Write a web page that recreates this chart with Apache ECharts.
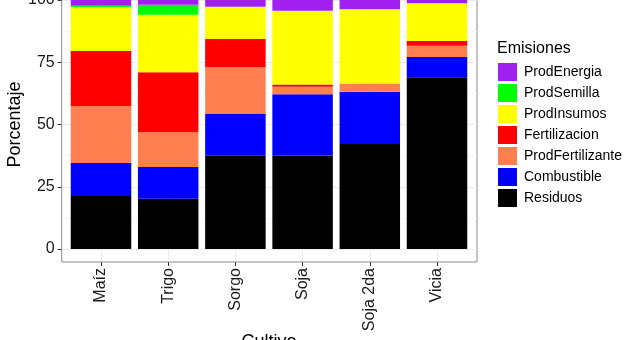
<!DOCTYPE html>
<html>
<head>
<meta charset="utf-8">
<script src="https://cdn.jsdelivr.net/npm/echarts@6/dist/echarts.min.js"></script>
<style>html,body{margin:0;padding:0;background:#fff}#c{width:640px;height:340px}</style>
</head>
<body>
<div id="c"></div>
<script>
const categories = ['Maíz', 'Trigo', 'Sorgo', 'Soja', 'Soja 2da', 'Vicia'];
const Residuos         = [21.3, 20.2, 37.5, 37.6, 42.2, 69.0];
const Combustible      = [13.2, 12.7, 16.7, 24.5, 21.0,  8.1];
const ProdFertilizante = [22.9, 14.0, 18.8,  3.1,  3.3,  4.5];
const Fertilizacion    = [22.1, 24.1, 11.3,  0.9,  0.0,  1.9];
const ProdInsumos      = [17.7, 23.1, 13.0, 29.6, 29.8, 15.2];
const ProdSemilla      = [ 0.5,  4.0,  0.0,  0.0,  0.0,  0.0];
const ProdEnergia      = [ 2.3,  1.9,  2.7,  4.3,  3.7,  1.3];
const yTicks = [0, 25, 50, 75, 100];
const legendOrder = ['ProdEnergia','ProdSemilla','ProdInsumos','Fertilizacion','ProdFertilizante','Combustible','Residuos'];

const FONT = 'Liberation Sans, Arial, sans-serif';
const stackSeries = [
  ['Residuos', Residuos, '#000000'],
  ['Combustible', Combustible, '#0000ff'],
  ['ProdFertilizante', ProdFertilizante, '#ff7f50'],
  ['Fertilizacion', Fertilizacion, '#ff0000'],
  ['ProdInsumos', ProdInsumos, '#ffff00'],
  ['ProdSemilla', ProdSemilla, '#00ff00'],
  ['ProdEnergia', ProdEnergia, '#a020f0']
];

const chart = echarts.init(document.getElementById('c'), null, {renderer: 'canvas'});
chart.setOption({
  animation: false,
  textStyle: {fontFamily: FONT},
  title: {
    text: 'Emisiones', left: 497, top: 41, padding: 0,
    textStyle: {fontSize: 16, fontWeight: 'normal', color: '#000', fontFamily: FONT}
  },
  legend: {
    data: legendOrder, orient: 'vertical', left: 498, top: 63, padding: 0,
    itemWidth: 19, itemHeight: 18, itemGap: 3, icon: 'rect',
    textStyle: {fontSize: 14, color: '#000', fontFamily: FONT, padding: [0, 0, 0, 2]}
  },
  grid: [
    {left: 61.7, right: 163, top: 0, bottom: 91, outerBoundsMode: 'none', containLabel: false},
    {left: 67.4, right: 169.4, top: 0, bottom: 91, outerBoundsMode: 'none', containLabel: false},
    {left: 61.7, right: 163, top: -12, bottom: 78, show: true, borderColor: '#8a8a8a', borderWidth: 1, backgroundColor: 'transparent', outerBoundsMode: 'none', containLabel: false},
    {left: 101, right: 203, top: -12, bottom: 78, outerBoundsMode: 'none', containLabel: false}
  ],
  xAxis: [
    {gridIndex: 0, type: 'category', data: categories, show: false},
    {gridIndex: 1, type: 'category', data: categories, show: false},
    {gridIndex: 2, type: 'value', min: 0, max: 1, show: false},
    {gridIndex: 3, type: 'category', data: categories, boundaryGap: false,
      axisLine: {show: false},
      axisTick: {show: true, length: 4, lineStyle: {color: '#333', width: 1}},
      axisLabel: {rotate: 90, margin: 6, fontSize: 16, color: '#1a1a1a', fontFamily: FONT,
        align: 'right', verticalAlign: 'middle', hideOverlap: false, interval: 0},
      splitLine: {show: true, lineStyle: {color: '#ebebeb', width: 1}},
      name: 'Cultivo', nameLocation: 'middle', nameGap: 71, nameMoveOverlap: false,
      nameTextStyle: {fontSize: 18, color: '#000', fontFamily: FONT, verticalAlign: 'top'}
    }
  ],
  yAxis: [
    {gridIndex: 0, type: 'value', min: yTicks[0], max: yTicks[yTicks.length - 1], interval: yTicks[1] - yTicks[0],
      axisLine: {show: false},
      axisTick: {show: true, length: 4, lineStyle: {color: '#333', width: 1}},
      axisLabel: {margin: 7, fontSize: 16, color: '#1a1a1a', fontFamily: FONT, verticalAlign: 'middle'},
      splitLine: {show: true, lineStyle: {color: '#ebebeb', width: 1}},
      minorTick: {show: false, splitNumber: 2},
      minorSplitLine: {show: true, lineStyle: {color: '#f5f5f5', width: 1}},
      name: 'Porcentaje', nameLocation: 'middle', nameGap: 38, nameRotate: 90, nameMoveOverlap: false,
      nameTextStyle: {fontSize: 18, color: '#000', fontFamily: FONT}
    },
    {gridIndex: 1, type: 'value', min: 0, max: 100, show: false},
    {gridIndex: 2, type: 'value', min: 0, max: 1, show: false},
    {gridIndex: 3, type: 'value', min: 0, max: 1, show: false}
  ],
  series: stackSeries.map(([name, data, color]) => ({
    name, type: 'bar', stack: 'total', data,
    xAxisIndex: 1, yAxisIndex: 1, barWidth: '90%',
    itemStyle: {color}
  }))
});
</script>
</body>
</html>
